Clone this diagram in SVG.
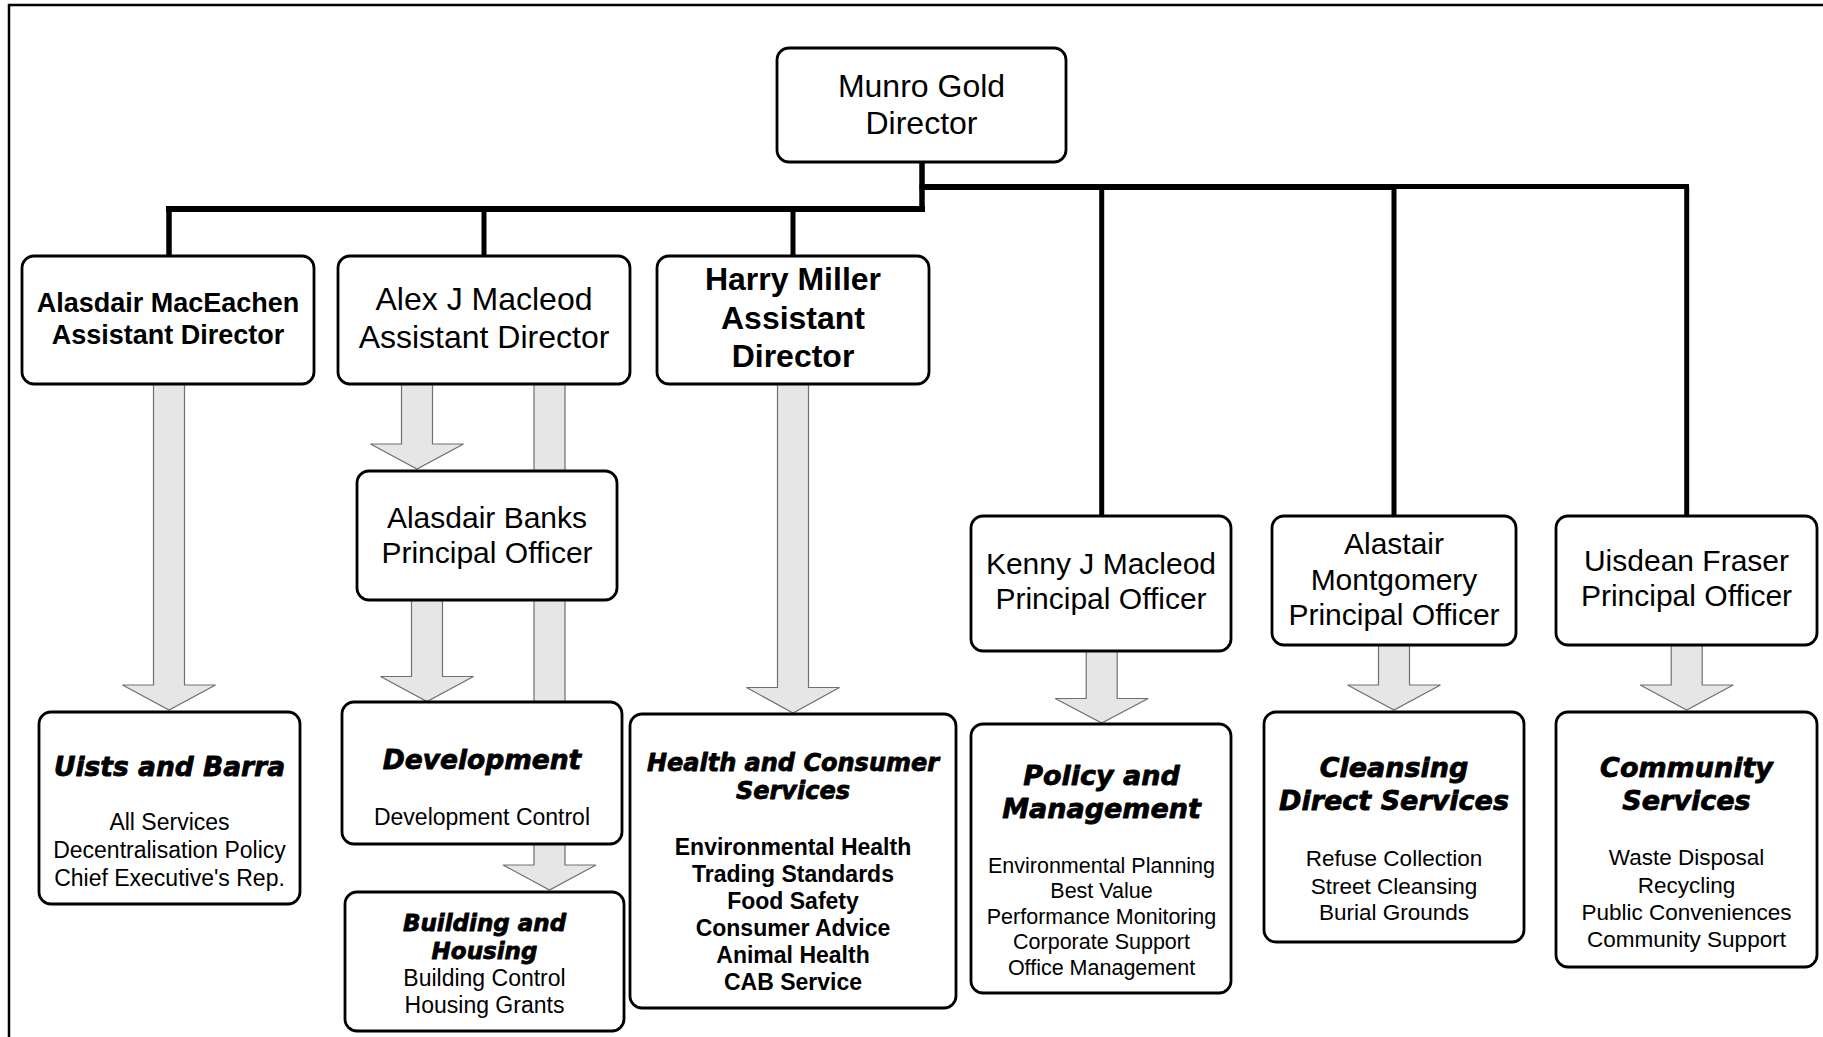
<svg xmlns="http://www.w3.org/2000/svg" width="1823" height="1037" viewBox="0 0 1823 1037">
<defs>
<style>
.box{fill:#fff;stroke:#000;stroke-width:2.8}
.ln{stroke:#000;fill:none;stroke-linecap:butt}
.arr{fill:#e6e6e6;stroke:#707070;stroke-width:1.2}
.t{font-family:"Liberation Sans",Arial,sans-serif;text-anchor:middle;fill:#000}
.b{font-weight:bold}
.h{font-family:"DejaVu Sans","Liberation Sans",sans-serif;font-weight:bold;font-style:italic;text-anchor:middle;fill:#000;stroke:#000;stroke-width:0.8;stroke-linejoin:round}
</style>
</defs>
<rect width="1823" height="1037" fill="#fff"/>
<rect x="9" y="5" width="1830" height="1050" fill="none" stroke="#000" stroke-width="2.5"/>

<g id="connectors">
<path class="ln" d="M922,162 V212" stroke-width="5.5"/>
<path class="ln" d="M925,209 H166" stroke-width="6"/>
<path class="ln" d="M169,209 V257" stroke-width="5.5"/>
<path class="ln" d="M484,209 V257" stroke-width="5"/>
<path class="ln" d="M793,209 V257" stroke-width="5"/>
<path class="ln" d="M919.5,187 H1394" stroke-width="6"/>
<path class="ln" d="M1394,186.5 H1689" stroke-width="5"/>
<path class="ln" d="M1101.7,187 V517" stroke-width="5"/>
<path class="ln" d="M1394,187 V517" stroke-width="5"/>
<path class="ln" d="M1686.7,187 V517" stroke-width="5"/>
<polygon class="arr" points="153.5,384 184.5,384 184.5,685 215.5,685 169,710 122.5,685 153.5,685"/>
<polygon class="arr" points="401.5,384 432.5,384 432.5,444 463.5,444 417,469 370.5,444 401.5,444"/>
<polygon class="arr" points="534,384 565,384 565,865 596,865 549.5,890 503,865 534,865"/>
<polygon class="arr" points="411.5,600 442.5,600 442.5,676.5 473.5,676.5 427,701.5 380.5,676.5 411.5,676.5"/>
<polygon class="arr" points="777.5,384 808.5,384 808.5,687.5 839.5,687.5 793,713 746.5,687.5 777.5,687.5"/>
<polygon class="arr" points="1086.2,651 1117.2,651 1117.2,698.5 1148.2,698.5 1101.7,723 1055.2,698.5 1086.2,698.5"/>
<polygon class="arr" points="1378.5,644.5 1409.5,644.5 1409.5,685 1440.5,685 1394,710 1347.5,685 1378.5,685"/>
<polygon class="arr" points="1671.2,644.5 1702.2,644.5 1702.2,685 1733.2,685 1686.7,710 1640.2,685 1671.2,685"/>
</g>

<g id="munro-gold">
<rect class="box" x="777" y="48" width="289" height="114" rx="12"/>
<text class="t" font-size="32" x="921.5" y="96.5">Munro Gold</text>
<text class="t" font-size="32" x="921.5" y="134">Director</text>
</g>

<g id="alasdair-maceachen">
<rect class="box" x="22" y="256" width="292" height="128" rx="12"/>
<text class="t b" font-size="27" x="168" y="312">Alasdair MacEachen</text>
<text class="t b" font-size="27" x="168" y="344">Assistant Director</text>
</g>

<g id="alex-macleod">
<rect class="box" x="338" y="256" width="292" height="128" rx="12"/>
<text class="t" font-size="32" x="484" y="310">Alex J Macleod</text>
<text class="t" font-size="32" x="484" y="348">Assistant Director</text>
</g>

<g id="harry-miller">
<rect class="box" x="657" y="256" width="272" height="128" rx="12"/>
<text class="t b" font-size="32" x="793" y="290">Harry Miller</text>
<text class="t b" font-size="32" x="793" y="329">Assistant</text>
<text class="t b" font-size="32" x="793" y="367">Director</text>
</g>

<g id="alasdair-banks">
<rect class="box" x="357" y="471" width="260" height="129" rx="12"/>
<text class="t" font-size="30" x="487" y="527.5">Alasdair Banks</text>
<text class="t" font-size="30" x="487" y="562.5">Principal Officer</text>
</g>

<g id="kenny-macleod">
<rect class="box" x="971" y="516" width="260" height="135" rx="12"/>
<text class="t" font-size="30" x="1101" y="574">Kenny J Macleod</text>
<text class="t" font-size="30" x="1101" y="609">Principal Officer</text>
</g>

<g id="alastair-montgomery">
<rect class="box" x="1272" y="516" width="244" height="129" rx="12"/>
<text class="t" font-size="30" x="1394" y="554">Alastair</text>
<text class="t" font-size="30" x="1394" y="590">Montgomery</text>
<text class="t" font-size="30" x="1394" y="625">Principal Officer</text>
</g>

<g id="uisdean-fraser">
<rect class="box" x="1556" y="516" width="261" height="129" rx="12"/>
<text class="t" font-size="30" x="1686.5" y="571">Uisdean Fraser</text>
<text class="t" font-size="30" x="1686.5" y="606">Principal Officer</text>
</g>

<g id="uists-barra">
<rect class="box" x="39" y="712" width="261" height="192" rx="12"/>
<text class="h" font-size="26.5" x="169.5" y="776">Uists and Barra</text>
<text class="t" font-size="23" x="169.5" y="830">All Services</text>
<text class="t" font-size="23" x="169.5" y="857.5">Decentralisation Policy</text>
<text class="t" font-size="23" x="169.5" y="885.5">Chief Executive's Rep.</text>
</g>

<g id="development">
<rect class="box" x="342" y="702" width="280" height="142" rx="12"/>
<text class="h" font-size="26.5" x="482" y="768.5">Development</text>
<text class="t" font-size="23" x="482" y="824.5">Development Control</text>
</g>

<g id="building-housing">
<rect class="box" x="345" y="892" width="279" height="139" rx="12"/>
<text class="h" font-size="23" x="484.5" y="930.5">Building and</text>
<text class="h" font-size="23" x="484.5" y="959">Housing</text>
<text class="t" font-size="23" x="484.5" y="985.5">Building Control</text>
<text class="t" font-size="23" x="484.5" y="1013">Housing Grants</text>
</g>

<g id="health-consumer">
<rect class="box" x="630" y="714" width="326" height="294" rx="12"/>
<text class="h" font-size="24" x="793" y="770.5">Health and Consumer</text>
<text class="h" font-size="24" x="793" y="799">Services</text>
<text class="t b" font-size="23" x="793" y="855">Environmental Health</text>
<text class="t b" font-size="23" x="793" y="882">Trading Standards</text>
<text class="t b" font-size="23" x="793" y="909">Food Safety</text>
<text class="t b" font-size="23" x="793" y="936">Consumer Advice</text>
<text class="t b" font-size="23" x="793" y="963">Animal Health</text>
<text class="t b" font-size="23" x="793" y="990">CAB Service</text>
</g>

<g id="policy-management">
<rect class="box" x="971" y="724" width="260" height="269" rx="12"/>
<text class="h" font-size="27" x="1101.5" y="785">Policy and</text>
<text class="h" font-size="27" x="1101.5" y="818">Management</text>
<text class="t" font-size="21.5" x="1101.5" y="872.5">Environmental Planning</text>
<text class="t" font-size="21.5" x="1101.5" y="898">Best Value</text>
<text class="t" font-size="21.5" x="1101.5" y="923.5">Performance Monitoring</text>
<text class="t" font-size="21.5" x="1101.5" y="949">Corporate Support</text>
<text class="t" font-size="21.5" x="1101.5" y="974.5">Office Management</text>
</g>

<g id="cleansing">
<rect class="box" x="1264" y="712" width="260" height="230" rx="12"/>
<text class="h" font-size="27" x="1394" y="777">Cleansing</text>
<text class="h" font-size="27" x="1394" y="810">Direct Services</text>
<text class="t" font-size="22.5" x="1394" y="866">Refuse Collection</text>
<text class="t" font-size="22.5" x="1394" y="893.5">Street Cleansing</text>
<text class="t" font-size="22.5" x="1394" y="920">Burial Grounds</text>
</g>

<g id="community">
<rect class="box" x="1556" y="712" width="261" height="255" rx="12"/>
<text class="h" font-size="27" x="1686.5" y="777">Community</text>
<text class="h" font-size="27" x="1686.5" y="809.5">Services</text>
<text class="t" font-size="22.5" x="1686.5" y="865">Waste Disposal</text>
<text class="t" font-size="22.5" x="1686.5" y="892.5">Recycling</text>
<text class="t" font-size="22.5" x="1686.5" y="919.5">Public Conveniences</text>
<text class="t" font-size="22.5" x="1686.5" y="947">Community Support</text>
</g>
</svg>
